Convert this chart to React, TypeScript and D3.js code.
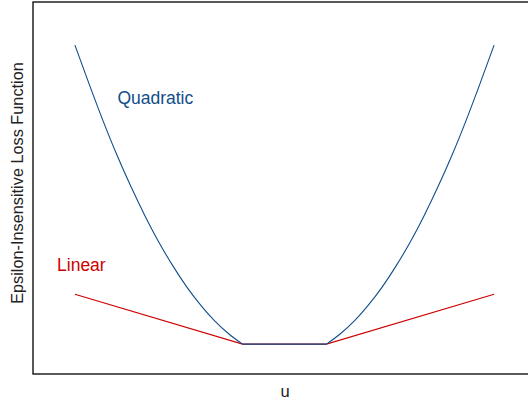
import React from "react";
import * as d3 from "d3";

// u values and loss
const leftU = [-7.5, -7, -6.5, -6, -5.5, -5, -4.5, -4, -3.5, -3, -2.5, -2, -1.5];
const leftQuadratic = [36, 31.4, 26.95, 22.8, 19, 15.5, 12.3, 9.45, 6.9, 4.7, 2.8, 1.25, 0];
const flatU = [-1.5, 1.5];
const flatQuadratic = [0, 0];
const rightU = [1.5, 2, 2.5, 3, 3.5, 4, 4.5, 5, 5.5, 6, 6.5, 7, 7.5];
const rightQuadratic = [0, 1.25, 2.8, 4.7, 6.9, 9.45, 12.3, 15.5, 19, 22.8, 26.95, 31.4, 36];
const linearU = [-7.5, -1.5, 1.5, 7.5];
const linearLoss = [6, 0, 0, 6];

const xLabel = "u";
const yLabel = "Epsilon-Insensitive Loss Function";
const seriesLabels = ["Quadratic", "Linear"];

const W = 528;
const H = 403;
const box = { left: 33, right: 536, top: 2, bottom: 374 };
const blue = "#104E8B";
const red = "#CD0000";
const font = "'Liberation Sans', Arial, Helvetica, sans-serif";

export default function App() {
  const x = d3.scaleLinear().domain([-9, 9]).range([box.left, box.right]);
  const y = d3.scaleLinear().domain([-3.6, 41.2]).range([box.bottom, box.top]);

  const curve = (us: number[], vs: number[], smooth: boolean) =>
    d3
      .line<number>()
      .x((_, i) => x(us[i]))
      .y((d) => y(d))
      .curve(smooth ? d3.curveMonotoneX : d3.curveLinear)(vs) || "";

  const quadPath =
    curve(leftU, leftQuadratic, true) +
    curve(flatU, flatQuadratic, false) +
    curve(rightU, rightQuadratic, true);

  return (
    <svg
      width={W}
      height={H}
      style={{ position: "absolute", left: 0, top: 0, background: "#fff" }}
      fontFamily={font}
    >
      <rect x={0} y={0} width={W} height={H} fill="#fff" />
      <rect
        x={box.left}
        y={box.top}
        width={box.right - box.left}
        height={box.bottom - box.top}
        fill="none"
        stroke="#000"
        strokeWidth={1.3}
      />
      <path d={curve(linearU, linearLoss, false)} fill="none" stroke={red} strokeWidth={1.1} />
      <path d={quadPath} fill="none" stroke={blue} strokeWidth={1.1} strokeLinejoin="round" />
      <text x={x(-5.98)} y={y(28.86)} fill={blue} fontSize={17.5}>
        {seriesLabels[0]}
      </text>
      <text x={x(-8.14)} y={y(8.8)} fill={red} fontSize={17.5}>
        {seriesLabels[1]}
      </text>
      <text x={285} y={397} textAnchor="middle" fontSize={16.5} fill="#222">
        {xLabel}
      </text>
      <text
        transform={`translate(22.5, 183) rotate(-90)`}
        textAnchor="middle"
        fontSize={16.3}
        fill="#222"
      >
        {yLabel}
      </text>
    </svg>
  );
}
